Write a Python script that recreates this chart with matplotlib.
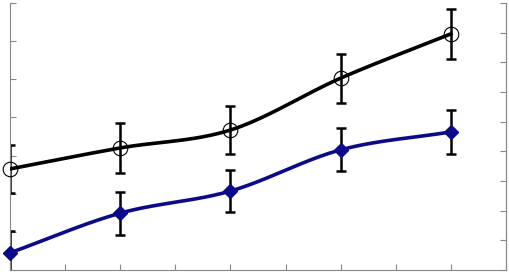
import numpy as np
import matplotlib
matplotlib.use('Agg')
import matplotlib.pyplot as plt

# data
x = [1, 2, 3, 4, 5]
black_y = [26.5, 32.0, 36.7, 50.3, 61.9]
black_err = [6.3, 6.5, 6.4, 6.4, 6.5]
blue_y = [4.5, 14.9, 20.7, 31.5, 36.2]
blue_err = [5.6, 5.6, 5.6, 5.6, 5.7]


def smooth(xs, ys, n=40):
    # catmull-rom curve through the points, just for drawing the line
    xs = np.asarray(xs, float)
    ys = np.asarray(ys, float)
    px = np.concatenate([[2 * xs[0] - xs[1]], xs, [2 * xs[-1] - xs[-2]]])
    py = np.concatenate([[2 * ys[0] - ys[1]], ys, [2 * ys[-1] - ys[-2]]])
    ox, oy = [], []
    t = np.linspace(0, 1, n)
    for i in range(1, len(px) - 2):
        for p, out in ((px, ox), (py, oy)):
            p0, p1, p2, p3 = p[i - 1], p[i], p[i + 1], p[i + 2]
            out.extend(0.5 * (2 * p1 + (-p0 + p2) * t
                              + (2 * p0 - 5 * p1 + 4 * p2 - p3) * t ** 2
                              + (-p0 + 3 * p1 - 3 * p2 + p3) * t ** 3))
    return ox, oy


fig = plt.figure(figsize=(5.1, 2.75), dpi=100)
ax = fig.add_axes([10 / 510, 5 / 275, 496 / 510, 267 / 275])
navy = '#0b0b8a'

sx, sy = smooth(x, black_y)
ax.plot(sx, sy, color='black', lw=2.6, zorder=3)
ax.errorbar(x, black_y, yerr=black_err, fmt='none', ecolor='black',
            elinewidth=1.8, capsize=3.3, capthick=1.8, zorder=2)
ax.plot(x, black_y, 'o', ms=10.5, mfc='none', mec='black', mew=0.8,
        clip_on=False, zorder=4)

sx, sy = smooth(x, blue_y)
ax.plot(sx, sy, color=navy, lw=2.6, zorder=3)
ax.errorbar(x, blue_y, yerr=blue_err, fmt='none', ecolor='black',
            elinewidth=1.8, capsize=3.3, capthick=1.8, zorder=2)
ax.plot(x, blue_y, 'D', ms=7.5, mfc=navy, mec=navy,
        clip_on=False, zorder=4)

ax.set_xlim(1, 5.5)
ax.set_ylim(0, 70)
ax.set_xticks(np.arange(1, 5.51, 0.5))
ax.set_yticks(np.arange(0, 71, 10))
ax.tick_params(direction='in', length=4, color='#888888',
               labelbottom=False, labelleft=False)
ax.spines['top'].set_visible(False)
for s in ('left', 'bottom', 'right'):
    ax.spines[s].set_color('#888888')
    ax.spines[s].set_linewidth(0.8)

ax2 = ax.twinx()
ax2.set_ylim(0, 9)
ax2.set_yticks(np.arange(0, 10, 1))
ax2.tick_params(direction='in', length=4, color='#888888', labelright=False)
ax2.spines['top'].set_visible(False)
ax2.spines['right'].set_color('#888888')
ax2.spines['right'].set_linewidth(0.8)
ax2.spines['left'].set_visible(False)
ax2.spines['bottom'].set_visible(False)

fig.savefig('out.png', dpi=100)
